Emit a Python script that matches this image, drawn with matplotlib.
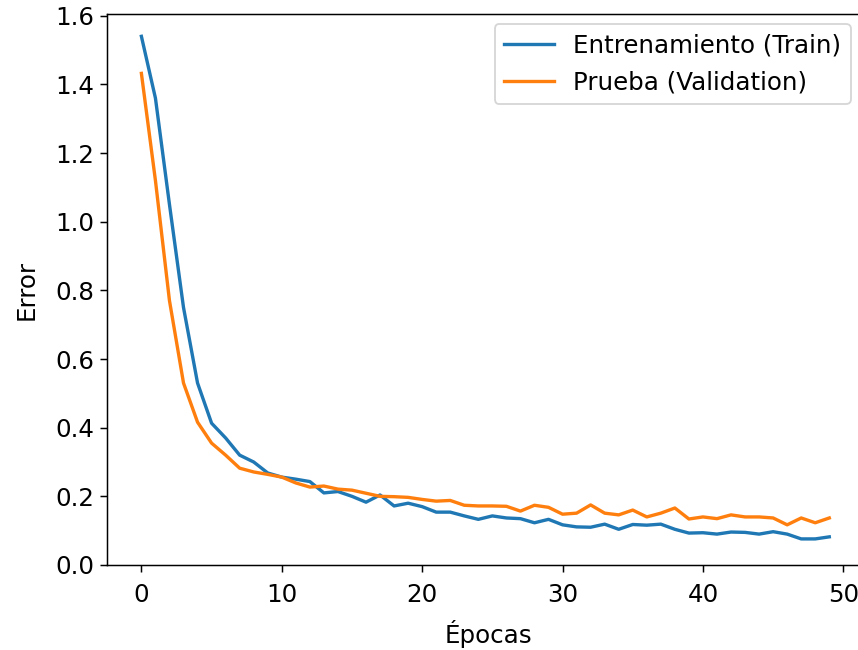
import numpy as np
import matplotlib
matplotlib.use("Agg")
import matplotlib.pyplot as plt

epochs = np.arange(50)

train_loss = [
    1.54, 1.36, 1.05, 0.75, 0.53, 0.413, 0.37, 0.32, 0.30, 0.268,
    0.256, 0.25, 0.243, 0.21, 0.214, 0.20, 0.183, 0.204, 0.172, 0.18,
    0.17, 0.154, 0.154, 0.143, 0.133, 0.143, 0.137, 0.135, 0.123, 0.133,
    0.117, 0.111, 0.11, 0.119, 0.104, 0.118, 0.116, 0.119, 0.104, 0.093,
    0.094, 0.09, 0.096, 0.095, 0.09, 0.097, 0.09, 0.076, 0.076, 0.082,
]

val_loss = [
    1.432, 1.12, 0.77, 0.53, 0.416, 0.355, 0.32, 0.282, 0.271, 0.264,
    0.256, 0.239, 0.227, 0.23, 0.221, 0.218, 0.209, 0.20, 0.199, 0.197,
    0.191, 0.186, 0.188, 0.174, 0.172, 0.172, 0.171, 0.157, 0.174, 0.168,
    0.148, 0.151, 0.175, 0.151, 0.146, 0.16, 0.14, 0.151, 0.166, 0.134,
    0.14, 0.135, 0.146, 0.14, 0.14, 0.137, 0.117, 0.137, 0.123, 0.137,
]

plt.rcParams["font.size"] = 13.2
plt.rcParams["lines.linewidth"] = 1.8

dpi = 134
fig = plt.figure(figsize=(858 / dpi, 650 / dpi), dpi=dpi)
# the original image was cropped on the right, so the axes run past the edge
ax = fig.add_axes([107 / 858, 85 / 650, 763 / 858, 551 / 650])

ax.plot(epochs, train_loss, label="Entrenamiento (Train)")
ax.plot(epochs, val_loss, label="Prueba (Validation)")

ax.set_xlim(-2.45, 51.9)
ax.set_ylim(0, 1.605)
ax.tick_params(axis="x", pad=6)
ax.set_xlabel("Épocas", labelpad=7)
ax.set_ylabel("Error", labelpad=9)

leg = ax.legend(loc="upper right", borderaxespad=0)
leg.set_bbox_to_anchor((851 / 858, 1 - 24 / 650), transform=fig.transFigure)

fig.savefig("out.png", dpi=dpi)
